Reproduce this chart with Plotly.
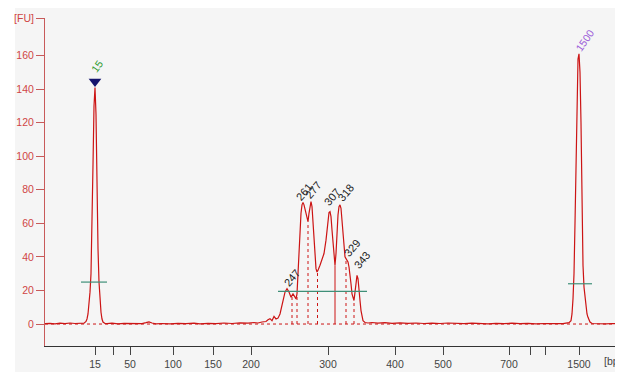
import plotly.graph_objects as go

# ---- data (migration time in s, fluorescence in FU) ----
time_s = [4.5, 5.0, 5.5, 6.0, 6.5, 7.0, 7.5, 8.0, 8.3,
          8.4, 8.6, 8.7, 8.8, 8.9, 9.0, 9.1, 9.2, 9.3, 9.4, 9.5, 9.6, 9.7, 9.8, 9.9, 10.0, 10.1, 10.2, 10.3, 10.5,
          10.7, 11.2, 11.8, 12.4, 13.0, 13.6, 14.2, 14.6, 14.9, 15.2, 15.6, 16.2, 17.0, 17.8, 18.6, 19.4, 20.0, 20.8,
          21.6, 22.4, 23.2, 24.0, 24.8, 25.4, 25.8, 26.2, 26.6, 26.8, 27.0, 27.2, 27.4, 27.6, 27.8,
          28.0, 28.1, 28.3, 28.5, 28.7, 28.9, 29.1, 29.3, 29.5, 29.6, 29.7, 29.8, 29.9, 30.0, 30.1, 30.2, 30.3,
          30.4, 30.5, 30.6, 30.7, 30.8, 30.9, 31.0, 31.1, 31.2, 31.3, 31.4, 31.5, 31.6, 31.7, 31.8, 32.0, 32.2,
          32.4, 32.6, 32.8, 32.9, 33.0, 33.1, 33.2, 33.3, 33.4, 33.5, 33.6, 33.7, 33.8, 33.9, 34.0, 34.1, 34.2,
          34.3, 34.4, 34.5, 34.6, 34.7, 34.8, 34.9, 35.0, 35.1, 35.2, 35.3, 35.4, 35.5, 35.6, 35.7, 35.8, 35.9,
          36.0, 36.1, 36.2, 36.3, 36.5, 36.8, 37.2, 37.8, 38.5, 39.2, 40.0, 40.8, 41.6, 42.4, 43.2, 44.0, 44.8,
          45.6, 46.4, 47.2, 48.0, 48.8, 49.6, 50.4, 51.2, 52.0, 52.8, 53.6, 54.4, 55.2, 55.8, 56.3, 56.6,
          56.9, 57.1, 57.2, 57.3, 57.4, 57.5, 57.6, 57.7, 57.8, 57.9, 58.0, 58.1, 58.2, 58.3, 58.4, 58.5, 58.6,
          58.7, 58.8, 58.9, 59.0, 59.2, 59.5, 60.0, 60.6, 61.2, 62.0]
fluorescence = [0.2, 0.4, 0.1, 0.5, 0.2, 0.6, 0.3, 0.5, 0.4,
                0.5, 1.5, 3.0, 6.0, 11.0, 19.0, 30.0, 55.0, 95.0, 130.0, 141.0, 125.0, 80.0, 45.0, 25.0, 14.0, 7.0, 3.0, 1.2, 0.3,
                0.2, 0.5, 0.1, 0.4, 0.2, 0.3, 0.2, 0.8, 1.3, 0.6, 0.1, 0.3, 0.1, 0.4, 0.2, 0.5, 0.1, 0.4,
                0.2, 0.6, 0.3, 0.7, 0.5, 0.9, 0.6, 1.2, 1.5, 2.5, 3.2, 2.0, 4.5, 3.0, 3.5,
                6.0, 9.0, 14.0, 19.0, 21.0, 19.0, 16.0, 18.0, 16.0, 15.0, 18.0, 30.0, 45.0, 58.0, 66.0, 71.0, 72.5,
                71.0, 68.0, 65.0, 62.0, 61.0, 66.0, 71.0, 73.0, 70.0, 60.0, 48.0, 38.0, 33.0, 31.0, 32.0, 35.0, 38.0,
                42.0, 50.0, 62.0, 66.5, 67.0, 64.0, 56.0, 47.0, 39.0, 35.0, 42.0, 56.0, 65.0, 70.0, 71.0, 69.0, 62.0,
                52.0, 44.0, 40.0, 39.0, 38.0, 37.0, 34.0, 30.0, 24.0, 18.0, 15.0, 14.0, 19.0, 26.0, 29.0, 27.0, 22.0,
                14.0, 8.0, 4.0, 2.0, 0.9, 0.6, 0.9, 0.5, 0.8, 0.4, 0.7, 0.4, 0.6, 0.3, 0.5, 0.3, 0.6,
                0.4, 0.2, 0.5, 0.3, 0.1, 0.4, 0.2, 0.5, 0.2, 0.4, 0.1, 0.3, 0.2, 0.4, 0.2, 0.5,
                0.8, 2.0, 6.0, 15.0, 30.0, 60.0, 100.0, 140.0, 158.0, 161.0, 150.0, 120.0, 70.0, 35.0, 22.0, 15.0, 10.0,
                6.0, 4.0, 2.5, 1.2, 0.3, 0.2, 0.4, 0.1, 0.3, 0.2]

# x-axis tick positions (migration time) and their bp labels
tick_times = [9.5, 11.3, 13.0, 17.3, 21.3, 25.1, 32.8, 39.5, 44.3, 50.9, 53.0, 54.5, 57.9]
tick_labels = ["15", "", "50", "100", "150", "200", "300", "400", "500", "700", "", "", "1500"]

# y ticks
fu_ticks = [0, 20, 40, 60, 80, 100, 120, 140, 160, 182]
fu_labels = ["0", "20", "40", "60", "80", "100", "120", "140", "160", "[FU]"]

# peak boundaries in the sample region
boundary_times = [29.2, 29.7, 30.8, 31.75, 34.6, 35.4]
boundary_heights = [16.5, 17.5, 61.0, 31.5, 39.0, 14.0]
solid_boundary_time = [33.5]
solid_boundary_height = [35.0]

# threshold/region lines (start, end, level)
region_starts = [8.1, 27.8, 56.8]
region_ends = [10.7, 36.7, 59.2]
region_levels = [25.0, 19.5, 24.0]

# peak labels
sample_labels = ["247", "261", "277", "307", "318", "329", "343"]
sample_label_t = [29.17, 30.4, 31.3, 33.2, 34.55, 35.2, 36.2]
sample_label_fu = [27.4, 78.7, 80.0, 75.7, 78.0, 45.3, 38.1]
lower_marker = ["15", 9.5, 144.5, 9.7, 153.8]   # label, marker t, marker fu, label t, label fu
upper_marker = ["1500", 58.5, 169.2]

RED = "#cc1414"
fig = go.Figure()

# baseline dashed
fig.add_trace(go.Scatter(x=[4.5, 62.0], y=[0, 0], mode="lines",
                         line=dict(color=RED, width=1, dash="3px,3px"), hoverinfo="skip"))

# boundaries
bx, by = [], []
for t, h in zip(boundary_times, boundary_heights):
    bx += [t, t, None]
    by += [0, h, None]
fig.add_trace(go.Scatter(x=bx, y=by, mode="lines",
                         line=dict(color=RED, width=1, dash="3px,3px"), hoverinfo="skip"))
sx, sy = [], []
for t, h in zip(solid_boundary_time, solid_boundary_height):
    sx += [t, t, None]
    sy += [0, h, None]
fig.add_trace(go.Scatter(x=sx, y=sy, mode="lines", line=dict(color=RED, width=1), hoverinfo="skip"))

# electropherogram
fig.add_trace(go.Scatter(x=time_s, y=fluorescence, mode="lines",
                         line=dict(color=RED, width=1.2), hoverinfo="skip"))

# region lines
rx, ry = [], []
for a, b, lv in zip(region_starts, region_ends, region_levels):
    rx += [a, b, None]
    ry += [lv, lv, None]
fig.add_trace(go.Scatter(x=rx, y=ry, mode="lines", line=dict(color="#3f8f78", width=1.2), hoverinfo="skip"))

# lower marker triangle
fig.add_trace(go.Scatter(x=[lower_marker[1]], y=[lower_marker[2]], mode="markers",
                         marker=dict(symbol="triangle-down", size=11, color="#14146e"), hoverinfo="skip"))

FONT = "Liberation Sans"
for lab, t, f in zip(sample_labels, sample_label_t, sample_label_fu):
    fig.add_annotation(x=t, y=f, text=lab, showarrow=False, textangle=-50,
                       font=dict(family=FONT, size=11, color="#222222"),
                       xanchor="center", yanchor="middle")
fig.add_annotation(x=lower_marker[3], y=lower_marker[4], text=lower_marker[0], showarrow=False, textangle=-55,
                   font=dict(family=FONT, size=10.5, color="#2e9a2e"), xanchor="center", yanchor="middle")
fig.add_annotation(x=upper_marker[1], y=upper_marker[2], text=upper_marker[0], showarrow=False, textangle=-55,
                   font=dict(family=FONT, size=10.5, color="#9a5ad8"), xanchor="center", yanchor="middle")
fig.add_annotation(xref="paper", yref="paper", x=0.968, y=-0.046, text="[bp]", showarrow=False,
                   font=dict(family=FONT, size=10.5, color="#444444"), xanchor="left", yanchor="middle")

# white margin strips around the light-gray panel
fig.add_shape(type="rect", xref="paper", yref="paper", x0=-0.08, x1=-0.0522, y0=-0.1, y1=1.06,
              fillcolor="white", line_width=0, layer="below")
fig.add_shape(type="rect", xref="paper", yref="paper", x0=-0.08, x1=1.01, y0=-0.1, y1=-0.0793,
              fillcolor="white", line_width=0, layer="below")

# the page body adds an 8px margin, so the figure is 615x369 and offset accordingly
fig.update_layout(
    width=615, height=369,
    margin=dict(l=37, r=3, t=10, b=31, autoexpand=False),
    paper_bgcolor="#f5f5f5", plot_bgcolor="#f5f5f5",
    showlegend=False,
    font=dict(family=FONT, size=10.5),
    xaxis=dict(range=[4.5, 62.0], tickmode="array", tickvals=tick_times, ticktext=tick_labels,
               ticks="outside", ticklen=8, tickcolor="#444444", showline=True, linecolor="#333333",
               linewidth=1, showgrid=False, zeroline=False, automargin=False,
               tickfont=dict(color="#444444", size=10.5)),
    yaxis=dict(range=[-13.1, 182.4], tickmode="array", tickvals=fu_ticks, ticktext=fu_labels,
               ticks="outside", ticklen=8, tickcolor="#c85a5a", showline=True, linecolor="#c85a5a",
               linewidth=1, showgrid=False, zeroline=False, automargin=False,
               tickfont=dict(color="#d04545", size=10.5)),
)

fig.write_html("out.html")
